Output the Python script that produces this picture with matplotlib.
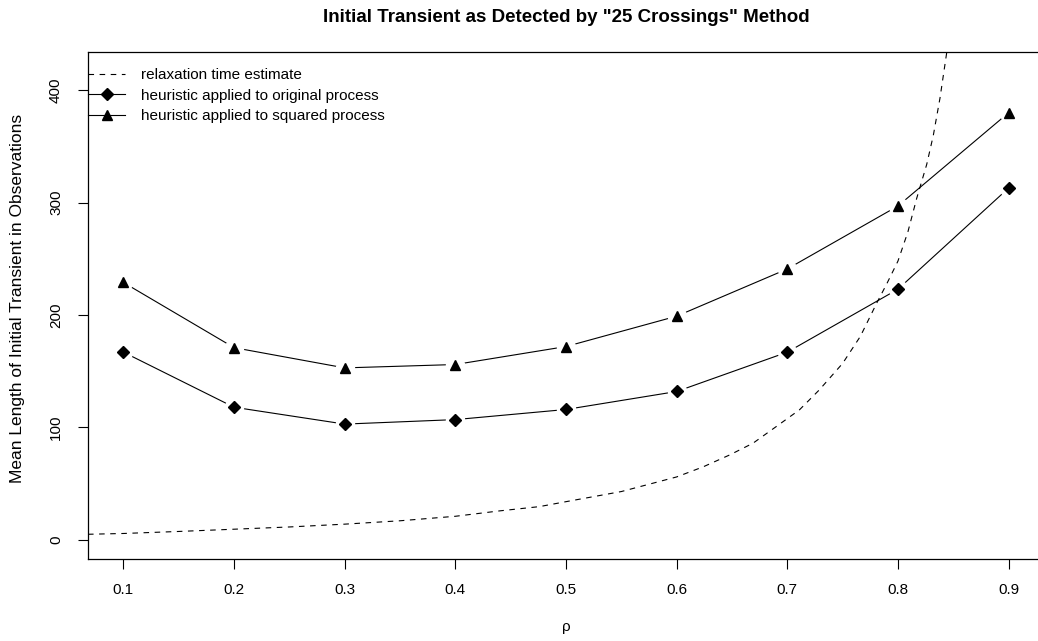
import matplotlib
matplotlib.use("Agg")
import matplotlib.pyplot as plt
from matplotlib.lines import Line2D

plt.rcParams['font.family'] = ['Liberation Sans', 'DejaVu Sans']

# mean initial-transient length for each autocorrelation value
rho = [0.1, 0.2, 0.3, 0.4, 0.5, 0.6, 0.7, 0.8, 0.9]
original = [167, 118, 103, 107, 116, 132, 167, 223, 313]
squared = [229, 171, 153, 156, 172, 199, 241, 297, 380]

# relaxation time estimate
relax_rho = [0.068, 0.1, 0.15, 0.2, 0.25, 0.3, 0.35, 0.4, 0.44, 0.476, 0.5,
             0.55, 0.6, 0.624, 0.648, 0.669, 0.69, 0.711, 0.729, 0.75, 0.766,
             0.781, 0.79, 0.8, 0.809, 0.817, 0.826, 0.832, 0.838, 0.844, 0.85]
relax_time = [5, 5.7, 7.5, 9.5, 11.5, 14, 17, 21, 25.8, 29.6, 34,
              43, 56, 65, 75.6, 86, 100.8, 115.7, 133.5, 157, 181,
              211, 228, 248, 274, 304, 334, 360, 393, 433, 480]

fs = 11

fig = plt.figure(figsize=(10.38, 6.41), dpi=100)
ax = fig.add_axes([88 / 1038, 82 / 641, 956 / 1038, 507 / 641])

# solid lines with gaps around the points, like type="b"
ax.plot(rho, original, color='black', lw=0.8, zorder=2)
ax.plot(rho, squared, color='black', lw=0.8, zorder=2)
ax.plot(rho, original, ls='none', marker='o', ms=13, color='white', zorder=3)
ax.plot(rho, squared, ls='none', marker='o', ms=13, color='white', zorder=3)

ax.plot(relax_rho, relax_time, color='black', lw=0.8, dashes=(5, 5), zorder=4)

ax.plot(rho, original, ls='none', marker='D', ms=5.8, color='black', zorder=5)
ax.plot(rho, squared, ls='none', marker='^', ms=6.8, color='black', zorder=5)

ax.set_xlim(0.068, 0.932)
ax.set_ylim(-17, 434)
ax.set_xticks(rho)
ax.set_xticklabels([f'{r:.1f}' for r in rho])
ax.set_yticks([0, 100, 200, 300, 400])
ax.tick_params(direction='out', length=7, width=0.8, pad=10, labelsize=fs)
ax.tick_params(axis='y', labelrotation=90, pad=11)
for lab in ax.get_yticklabels():
    lab.set_va('center')
for s in ax.spines.values():
    s.set_linewidth(0.9)

handles = [
    Line2D([], [], color='black', lw=0.8, dashes=(5, 5)),
    Line2D([], [], color='black', lw=0.8, marker='D', ms=5.8),
    Line2D([], [], color='black', lw=0.8, marker='^', ms=6.8),
]
labels = ['relaxation time estimate',
          'heuristic applied to original process',
          'heuristic applied to squared process']
ax.legend(handles, labels, loc='upper left', bbox_to_anchor=(0, 0.968),
          frameon=False, fontsize=fs, handlelength=2.45, handletextpad=1.05,
          borderpad=0, borderaxespad=0, labelspacing=0.42, numpoints=1)

fig.text(566 / 1038, 1 - 18 / 641,
         'Initial Transient as Detected by "25 Crossings" Method',
         ha='center', va='center', fontweight='bold', fontsize=13.5)
fig.text(566 / 1038, 1 - 627 / 641, 'ρ', ha='center', va='center', fontsize=fs)
fig.text(18 / 1038, 1 - 298 / 641,
         'Mean Length of Initial Transient in Observations',
         ha='center', va='center', rotation=90, fontsize=12.5)

fig.savefig('out.png', dpi=100)
